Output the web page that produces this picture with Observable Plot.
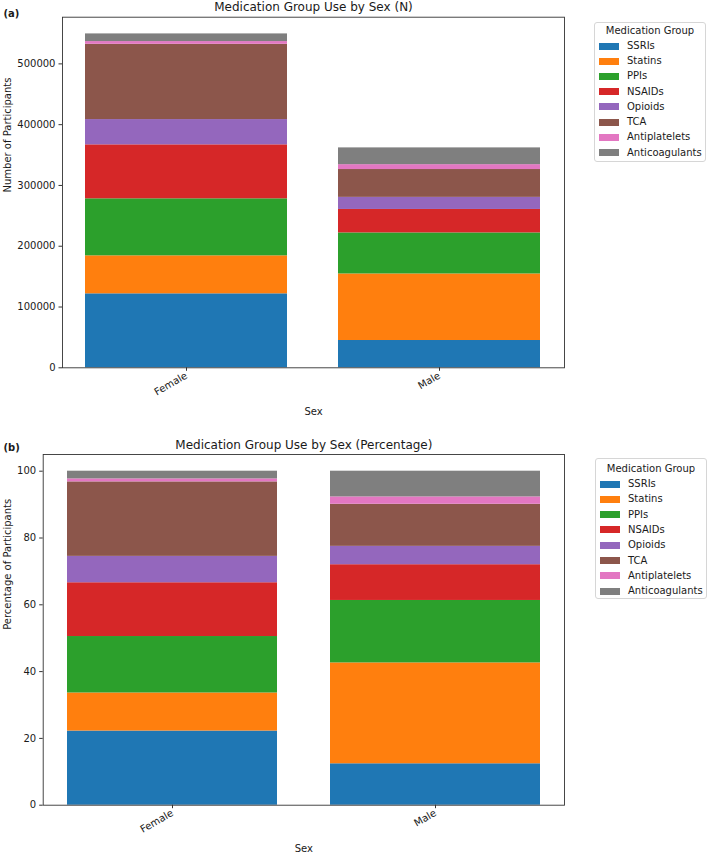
<!DOCTYPE html>
<html><head><meta charset="utf-8">
<script src="https://cdn.jsdelivr.net/npm/d3@7"></script>
<script src="https://cdn.jsdelivr.net/npm/@observablehq/plot@0.6"></script>
<style>
body{margin:0;background:#fff;font-family:"DejaVu Sans",sans-serif;}
#wrap{position:relative;width:709px;height:854px;overflow:hidden;}
#wrap svg{display:block;}
.legend{position:absolute;border:1px solid #d6d6d6;border-radius:3px;background:#fff;box-sizing:border-box;font-size:10px;color:#1a1a1a;width:112px;}
.legend .lt{position:absolute;left:0;width:100%;text-align:center;height:12px;line-height:12px;}
.legend .row{position:absolute;left:0;height:12px;line-height:12px;white-space:nowrap;}
.legend .sw{position:absolute;left:4px;top:2.5px;width:20px;height:7px;}
.legend .lbl{position:absolute;left:32px;top:0;}
</style></head>
<body><div id="wrap"></div>
<script>
const sexes = ["Female", "Male"];
const groups = ["SSRIs", "Statins", "PPIs", "NSAIDs", "Opioids", "TCA", "Antiplatelets", "Anticoagulants"];
const colors = ["#1f77b4", "#ff7f0e", "#2ca02c", "#d62728", "#9467bd", "#8c564b", "#e377c2", "#7f7f7f"];
const countFemale = [121700, 62500, 93800, 88800, 41600, 123800, 4500, 12600];
const countMale   = [44900, 109500, 67500, 38600, 19900, 45800, 8000, 27600];
const pctFemale = [22.2, 11.4, 16.9, 16.1, 7.9, 22.3, 0.9, 2.3];
const pctMale   = [12.4, 30.2, 18.7, 10.7, 5.5, 12.6, 2.2, 7.7];
const countTicks = [0, 100000, 200000, 300000, 400000, 500000];
const pctTicks = [0, 20, 40, 60, 80, 100];
const titles = ["Medication Group Use by Sex (N)", "Medication Group Use by Sex (Percentage)"];
const yLabels = ["Number of Participants", "Percentage of Participants"];
const panels = ["(a)", "(b)"];
const xLabel = "Sex";
const legendTitle = "Medication Group";

function rows(f, m) {
  const out = [];
  groups.forEach((g, i) => {
    out.push({sex: sexes[0], group: g, value: f[i]});
    out.push({sex: sexes[1], group: g, value: m[i]});
  });
  return out;
}

function chart(data, o) {
  return Plot.plot({
    width: 709, height: 427,
    marginLeft: o.ml, marginRight: 145, marginTop: o.mt, marginBottom: o.mb,
    style: {fontFamily: "DejaVu Sans", fontSize: "10px", color: "#1a1a1a", background: "#fff"},
    x: {domain: sexes, paddingInner: 0.2, paddingOuter: 0.09, axis: null},
    y: {domain: [0, o.ymax], axis: null},
    color: {domain: groups, range: colors},
    marks: [
      Plot.barY(data, {x: "sex", y: "value", fill: "group"}),
      Plot.frame({stroke: "#333", strokeWidth: 0.9}),
      Plot.axisX({tickSize: 3.5, tickPadding: 3.5, tickRotate: -30, label: null, fontSize: 10, stroke: "#333"}),
      Plot.axisY({ticks: o.ticks, tickFormat: d => String(d), tickSize: 3.5, tickPadding: 3.5, label: null, fontSize: 10, stroke: "#333"}),
      Plot.text([xLabel], {text: d => d, frameAnchor: "bottom", dy: 47, fontSize: 10}),
      Plot.text([o.ylabel], {text: d => d, frameAnchor: "left", dx: 7 - o.ml, rotate: -90, fontSize: 10}),
      Plot.text([o.title], {text: d => d, frameAnchor: "top", dy: -6, lineAnchor: "bottom", fontSize: 12}),
      Plot.text([o.panel], {text: d => d, frameAnchor: "top-left", dx: 3 - o.ml, dy: o.pdy, textAnchor: "start", fontWeight: "bold", fontSize: 10})
    ]
  });
}

const wrap = document.getElementById("wrap");
wrap.appendChild(chart(rows(countFemale, countMale), {ml: 62, mt: 16.7, mb: 59.7, ymax: 576800, ticks: countTicks, ylabel: yLabels[0], title: titles[0], panel: panels[0], pdy: -7.4}));
wrap.appendChild(chart(rows(pctFemale, pctMale), {ml: 42.7, mt: 27, mb: 49.3, ymax: 105, ticks: pctTicks, ylabel: yLabels[1], title: titles[1], panel: panels[1], pdy: -11}));

function legend(left, top, height, titleY, firstY, step) {
  const box = document.createElement("div");
  box.className = "legend";
  box.style.left = left + "px";
  box.style.top = top + "px";
  box.style.height = height + "px";
  const t = document.createElement("div");
  t.className = "lt";
  t.style.top = (titleY - top - 6) + "px";
  t.textContent = legendTitle;
  box.appendChild(t);
  groups.forEach((g, i) => {
    const r = document.createElement("div");
    r.className = "row";
    r.style.top = (firstY + i * step - top - 6) + "px";
    const sw = document.createElement("div");
    sw.className = "sw";
    sw.style.background = colors[i];
    const lb = document.createElement("div");
    lb.className = "lbl";
    lb.textContent = g;
    r.appendChild(sw); r.appendChild(lb);
    box.appendChild(r);
  });
  wrap.appendChild(box);
}
legend(594, 22, 140, 30, 45, 15.24);
legend(595, 458, 141, 468, 483, 15.3);
</script>
</body></html>
